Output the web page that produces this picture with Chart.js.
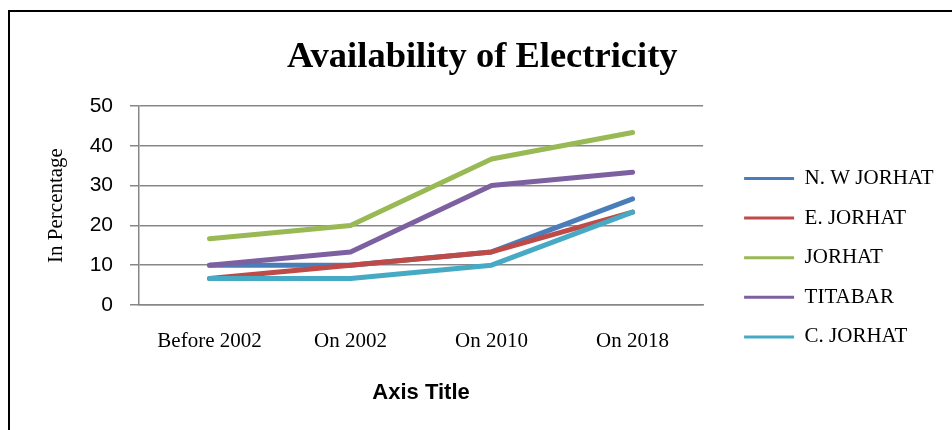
<!DOCTYPE html>
<html>
<head>
<meta charset="utf-8">
<script src="https://cdn.jsdelivr.net/npm/chart.js@4.4.1/dist/chart.umd.min.js"></script>
<style>
  html, body { margin: 0; padding: 0; background: #fff; overflow: hidden; }
  #wrap { position: relative; width: 952px; height: 430px; }
  #frame { position: absolute; left: 8px; top: 10px; width: 960px; height: 440px;
           border-left: 2px solid #000; border-top: 2px solid #000; pointer-events: none; }
</style>
</head>
<body>
<div id="wrap">
  <canvas id="lineChart" width="952" height="430"></canvas>
  <div id="frame"></div>
</div>
<script>
const categories = ["Before 2002", "On 2002", "On 2010", "On 2018"];
const seriesNames = ["N. W JORHAT", "E. JORHAT", "JORHAT", "TITABAR", "C. JORHAT"];
const nwJorhat = [10, 10, 13.33, 26.67];
const eJorhat = [6.67, 10, 13.33, 23.33];
const jorhat = [16.67, 20, 36.67, 43.33];
const titabar = [10, 13.33, 30, 33.33];
const cJorhat = [6.67, 6.67, 10, 23.33];
const yTicks = [0, 10, 20, 30, 40, 50];

const colors = ['#4a7ebb', '#be4b48', '#98b954', '#7d60a0', '#46aac5'];
const allValues = [nwJorhat, eJorhat, jorhat, titabar, cJorhat];

const serif = "'Liberation Serif', 'Times New Roman', serif";
const sans = "'Liberation Sans', Arial, sans-serif";
const gridGray = '#878787';

const datasets = seriesNames.map((name, i) => ({
  label: name,
  data: allValues[i],
  borderColor: colors[i],
  backgroundColor: colors[i],
  borderWidth: 5,
  borderCapStyle: 'round',
  borderJoinStyle: 'round',
  pointRadius: 0,
  tension: 0,
  fill: false,
  // later series sit on top, like the original
  order: seriesNames.length - i
}));

const ctx = document.getElementById('lineChart').getContext('2d');
new Chart(ctx, {
  type: 'line',
  data: { labels: categories, datasets: datasets },
  options: {
    responsive: false,
    animation: false,
    layout: { padding: { left: 21, right: 8.5, top: 0, bottom: 21.6 } },
    plugins: {
      title: {
        display: true,
        text: 'Availability of Electricity',
        color: '#000',
        font: { family: serif, size: 36.5, weight: 'bold' },
        padding: { top: 36, bottom: 26.2 }
      },
      legend: {
        display: true,
        position: 'right',
        align: 'start',
        maxWidth: 400,
        // empty legend title only pushes the items down to the middle
        title: { display: true, text: '', color: '#000', font: { size: 10 }, padding: { top: 137.4, bottom: 0 } },
        labels: {
          boxWidth: 50,
          boxHeight: 3,
          padding: 18.6,
          color: '#000',
          font: { family: serif, size: 21 },
          generateLabels: (chart) => chart.data.datasets.map((ds, i) => ({
            text: ds.label,
            fillStyle: ds.borderColor,
            strokeStyle: ds.borderColor,
            fontColor: '#000',
            lineWidth: 0,
            hidden: false,
            datasetIndex: i
          }))
        }
      },
      tooltip: { enabled: false }
    },
    scales: {
      x: {
        offset: true,
        grid: { display: false, drawTicks: false },
        border: { display: true, color: gridGray, width: 1.5 },
        ticks: { color: '#000', font: { family: serif, size: 21 }, padding: 24, maxRotation: 0 },
        title: {
          display: true,
          text: 'Axis Title',
          color: '#000',
          font: { family: sans, size: 22, weight: 'bold' },
          padding: { top: 0, bottom: 2 }
        },
        afterFit: (scale) => { scale.height = 103.4; }
      },
      y: {
        min: 0,
        max: 50,
        afterBuildTicks: (scale) => { scale.ticks = yTicks.map(v => ({ value: v })); },
        grid: { color: gridGray, lineWidth: 1.5, drawTicks: true, tickLength: 9, tickColor: gridGray },
        border: { display: true, color: gridGray, width: 1.5 },
        ticks: { color: '#000', font: { family: sans, size: 21 }, padding: 17 },
        title: {
          display: true,
          text: 'In Percentage',
          color: '#000',
          font: { family: serif, size: 21 },
          padding: { top: 22.4, bottom: 0 }
        },
        afterFit: (scale) => { scale.width = 118; }
      },
      // empty spacer between the plot and the legend
      spacer: {
        type: 'linear',
        position: 'right',
        display: true,
        grid: { display: false, drawTicks: false },
        border: { display: false },
        ticks: { display: false },
        afterFit: (scale) => { scale.width = 22.4; }
      }
    }
  }
});
</script>
</body>
</html>
